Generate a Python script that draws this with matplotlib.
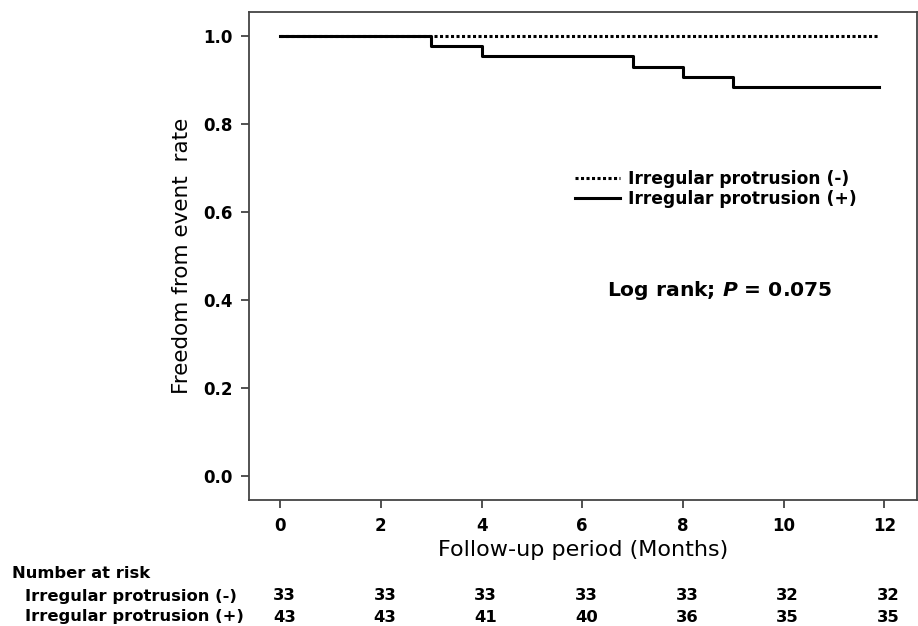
import matplotlib.pyplot as plt

# Kaplan-Meier data
months = [0, 3, 4, 7, 8, 9, 11.9]
surv_neg = [1.0, 1.0, 1.0, 1.0, 1.0, 1.0, 1.0]
surv_pos = [1.0, 0.977, 0.953, 0.930, 0.907, 0.884, 0.884]

tick_months = [0, 2, 4, 6, 8, 10, 12]
at_risk_neg = [33, 33, 33, 33, 33, 32, 32]
at_risk_pos = [43, 43, 41, 40, 36, 35, 35]

labels = ['Irregular protrusion (-)', 'Irregular protrusion (+)']

fig = plt.figure(figsize=(9.18, 6.26), dpi=100)
W, H = 918, 626
ax = fig.add_axes([249 / W, 1 - 500 / H, (917 - 249) / W, (500 - 12) / H])

ax.step(months, surv_neg, where='post', color='black', lw=2.2,
        linestyle=(0, (1, 0.8)), label=labels[0])
ax.step(months, surv_pos, where='post', color='black', lw=2.2,
        label=labels[1])

ax.set_xlim(-0.62, 12.65)
ax.set_ylim(-0.055, 1.054)
ax.set_xticks(tick_months)
ax.set_yticks([0.0, 0.2, 0.4, 0.6, 0.8, 1.0])
ax.set_yticklabels(['0.0', '0.2', '0.4', '0.6', '0.8', '1.0'])
for lab in ax.get_xticklabels() + ax.get_yticklabels():
    lab.set_fontweight('bold')
    lab.set_fontsize(12)
ax.tick_params(length=6, width=1.2, color='#333333', pad=6)
for sp in ax.spines.values():
    sp.set_color('#444444')
    sp.set_linewidth(1.3)

ax.set_ylabel('Freedom from event  rate', fontsize=15.5, labelpad=8)
ax.set_xlabel('Follow-up period (Months)', fontsize=16, labelpad=4)

ax.legend(loc='upper left', bbox_to_anchor=(0.478, 0.69), frameon=False,
          handlelength=2.6, handletextpad=0.5, labelspacing=0.1,
          borderaxespad=0, prop={'weight': 'bold', 'size': 12.3})

ax.text(0.705, 0.43, r'Log rank; $\mathbfit{P}$ = 0.075', transform=ax.transAxes,
        ha='center', va='center', fontsize=14.6, fontweight='bold')

# number at risk table
fs = 11.8
fig.text(12 / W, 1 - 573 / H, 'Number at risk', fontsize=fs, fontweight='bold', va='center')
fig.text(25 / W, 1 - 596 / H, labels[0], fontsize=fs, fontweight='bold', va='center')
fig.text(25 / W, 1 - 617 / H, labels[1], fontsize=fs, fontweight='bold', va='center')
for m, a, b in zip(tick_months, at_risk_neg, at_risk_pos):
    xf = ax.transData.transform((m, 0))[0] / W + 4 / W
    fig.text(xf, 1 - 596 / H, str(a), fontsize=fs, fontweight='bold', ha='center', va='center')
    fig.text(xf, 1 - 617 / H, str(b), fontsize=fs, fontweight='bold', ha='center', va='center')

fig.savefig('out.png', dpi=100)
